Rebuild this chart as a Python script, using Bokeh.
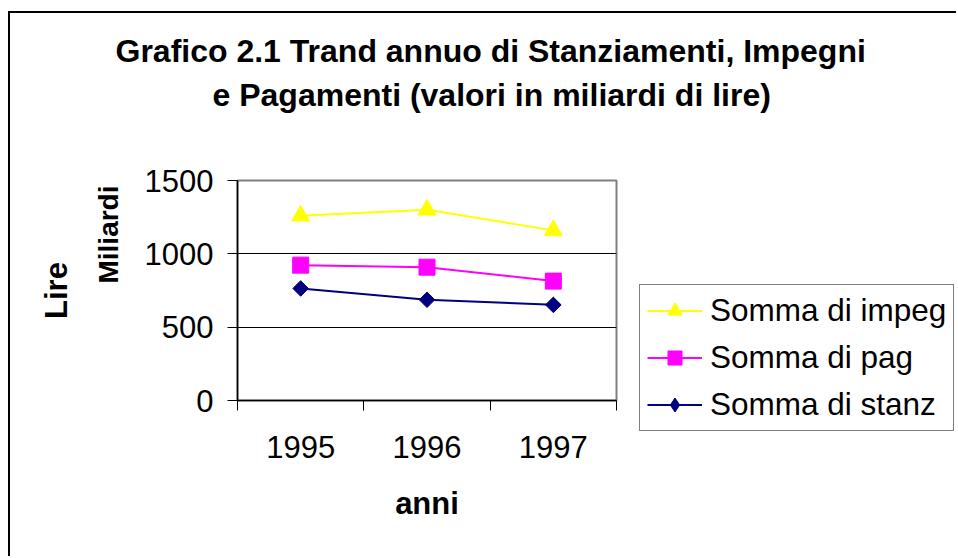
import math
from bokeh.plotting import figure
from bokeh.models import (FixedTicker, Legend, LegendItem, Title, Range1d)
from bokeh.embed import file_html
from bokeh.resources import INLINE

years = [1995, 1996, 1997]
year_labels = ["1995", "1996", "1997"]
impeg = [1260, 1300, 1160]
pag = [923, 909, 814]
stanz = [764, 687, 652]
y_ticks = [0, 500, 1000, 1500]
title_lines = ["Grafico 2.1 Trand annuo di Stanziamenti, Impegni",
               "e Pagamenti (valori in miliardi di lire)"]
series_names = ["Somma di impeg", "Somma di pag", "Somma di stanz"]

FONT = "Liberation Sans"
COLORS = ["#FFFF00", "#FF00FF", "#000080"]

p = figure(width=948, height=545, output_backend="svg", toolbar_location=None,
           title=None,
           x_range=Range1d(1994.5, 1997.5), y_range=Range1d(0, 1500),
           min_border_left=227, min_border_right=342, min_border_top=167,
           min_border_bottom=158)
p.styles = {"border-left": "2px solid black", "border-top": "2px solid black",
            "margin-top": "11px", "margin-left": "8px"}
p.background_fill_color = "white"
p.border_fill_color = "white"
p.outline_line_color = "#808080"
p.outline_line_width = 2

# x axis
xa = p.xaxis[0]
xa.ticker = FixedTicker(ticks=years, minor_ticks=[1994.5, 1995.5, 1996.5, 1997.5])
xa.major_label_overrides = {y: l for y, l in zip(years, year_labels)}
xa.major_tick_line_color = None
xa.major_tick_out = 0
xa.major_tick_in = 0
xa.minor_tick_line_color = "black"
xa.minor_tick_out = 10
xa.minor_tick_in = 0
xa.axis_line_color = "black"
xa.axis_line_width = 1.5
xa.major_label_text_font = FONT
xa.major_label_text_font_size = "31px"
xa.major_label_text_color = "black"
xa.major_label_standoff = 25
xa.axis_label = "anni"
xa.axis_label_text_font = FONT
xa.axis_label_text_font_style = "bold"
xa.axis_label_text_font_size = "31px"
xa.axis_label_standoff = 25
xa.axis_label_text_color = "black"

# y axis
ya = p.yaxis[0]
ya.ticker = FixedTicker(ticks=y_ticks, minor_ticks=[])
ya.major_tick_line_color = "black"
ya.major_tick_out = 10
ya.major_tick_in = 0
ya.axis_line_color = "black"
ya.axis_line_width = 1.5
ya.major_label_text_font = FONT
ya.major_label_text_font_size = "31px"
ya.major_label_text_color = "black"
ya.major_label_standoff = 14

p.xgrid.grid_line_color = None
p.ygrid.ticker = FixedTicker(ticks=[500, 1000])
p.ygrid.grid_line_color = "black"
p.ygrid.grid_line_width = 1


def add_series(fig, visible=True, legend_only=False):
    out = []
    for vals, col, mk in zip([impeg, pag, stanz], COLORS,
                             ["triangle", "square", "diamond"]):
        ln = fig.line(years, vals, line_color=col, line_width=2, visible=visible)
        if mk == "triangle":
            sc = fig.scatter(years, vals, marker="triangle", size=18,
                             fill_color=col, line_color=col, visible=visible)
        elif mk == "square":
            sc = fig.scatter(years, vals, marker="square", size=16,
                             fill_color=col, line_color=col, visible=visible)
        elif legend_only:
            sc = fig.scatter(years, vals, marker="diamond", size=18,
                             fill_color=col, line_color=col, visible=visible)
        else:
            sc = fig.scatter(years, vals, marker="square", angle=math.pi / 4,
                             size=11, fill_color=col, line_color=col,
                             visible=visible)
        out.append((ln, sc))
    return out


add_series(p)

# left side: "Miliardi" then "Lire"
mil = Title(text="Miliardi", align="right", offset=5, vertical_align="bottom",
            standoff=35, text_font=FONT, text_font_style="bold",
            text_font_size="28px", text_color="black")
lire = Title(text="Lire", align="center", vertical_align="bottom", standoff=0,
             text_font=FONT, text_font_style="bold", text_font_size="31px",
             text_color="black")
p.add_layout(mil, "left")
p.add_layout(lire, "left")

# title: spacer then two lines
spacer = Title(text=" ", text_font_size="1px", standoff=61)
t2 = Title(text=title_lines[1], align="left", offset=-25, vertical_align="middle",
           standoff=6, text_font=FONT, text_font_style="bold",
           text_font_size="32px", text_color="black")
t1 = Title(text=title_lines[0], align="left", offset=-122, vertical_align="middle",
           standoff=6, text_font=FONT, text_font_style="bold",
           text_font_size="32px", text_color="black")
p.add_layout(spacer, "above")
p.add_layout(t2, "above")
p.add_layout(t1, "above")

# legend panel overlaid on the right part of the chart (separate root)
lf = figure(width=342, height=545, output_backend="svg", toolbar_location=None,
            title=None, x_axis_location=None, y_axis_location=None,
            min_border=0, x_range=p.x_range, y_range=p.y_range)
lf.styles = {"position": "absolute", "left": "616px", "top": "13px"}
lf.grid.visible = False
lf.outline_line_color = None
lf.background_fill_alpha = 0
lf.border_fill_alpha = 0
pairs = add_series(lf, visible=False, legend_only=True)

legend = Legend(items=[LegendItem(label=n, renderers=list(rs))
                       for n, rs in zip(series_names, pairs)],
                location=(23, 127), orientation="vertical")
legend.label_text_font = FONT
legend.label_text_font_size = "31.5px"
legend.label_text_color = "black"
legend.label_height = 35
legend.glyph_height = 35
legend.glyph_width = 55
legend.label_standoff = 8
legend.spacing = 10
legend.padding = 7
legend.margin = 0
legend.border_line_color = "black"
legend.border_line_width = 1
legend.background_fill_color = "white"
legend.background_fill_alpha = 1
lf.add_layout(legend, "center")

open("out.html", "w").write(file_html([p, lf], INLINE))
